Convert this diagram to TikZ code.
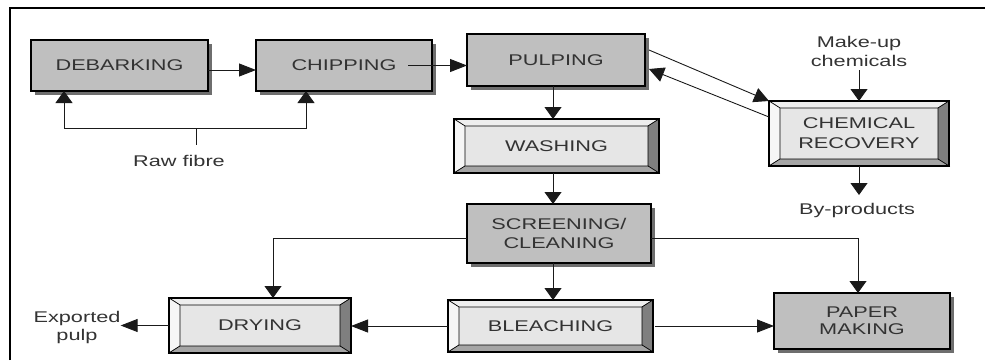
\documentclass[tikz,border=0pt]{standalone}
\usepackage{fontspec}
\setmainfont{Liberation Sans}[FakeStretch=1.4]
\usetikzlibrary{arrows.meta,calc,shadows}
\definecolor{ink}{HTML}{333333}
\definecolor{boxgray}{HTML}{BFBFBF}
\definecolor{shade}{HTML}{6E6E6E}
\definecolor{face}{HTML}{E6E6E6}
\definecolor{bevtop}{HTML}{EEEEEE}
\definecolor{bevleft}{HTML}{F6F6F6}
\definecolor{bevright}{HTML}{7F7F7F}
\definecolor{bevbottom}{HTML}{A5A5A5}
\definecolor{wirecol}{HTML}{1A1A1A}

\begin{document}
\begin{tikzpicture}[x=1pt,y=-1pt,
  lbl/.style={text=ink,font=\fontsize{15.5}{19}\selectfont,align=center,inner sep=0pt},
  flatbox/.style={lbl,draw=black,line width=1.2pt,fill=boxgray,outer sep=0pt,
     drop shadow={shadow xshift=4pt,shadow yshift=-4pt,fill=shade,opacity=1}},
  bevelbox/.style={lbl,draw=black,line width=1.2pt,fill=face,outer sep=0pt},
  bevel/.style={draw=black,line width=0.6pt},
  wire/.style={draw=wirecol,line width=0.9pt},
  harrow/.style={wire,-{Triangle[length=17pt,width=13pt]}},
  varrow/.style={wire,-{Triangle[length=12pt,width=17pt]}},
  darrow/.style={wire,-{Triangle[length=15pt,width=15pt]}},
]
\useasboundingbox (0,0) rectangle (985,360);

% open frame: top and left rules
\draw[line width=2.5pt] (10,360) -- (10,8) -- (985,8);

% plain process boxes
\node[flatbox,minimum width=177pt,minimum height=51pt] (deb)    at (119.5,65.5) {DEBARKING};
\node[flatbox,minimum width=176pt,minimum height=51pt] (chip)   at (344,65.5)   {CHIPPING};
\node[flatbox,minimum width=178pt,minimum height=52pt] (pulp)   at (556,60)     {PULPING};
\node[flatbox,minimum width=184pt,minimum height=59pt] (screen) at (559,233.5)  {SCREENING/\\CLEANING};
\node[flatbox,minimum width=176pt,minimum height=56pt,font=\fontsize{15.5}{17}\selectfont] (paper) at (862,321) {PAPER\\MAKING};

% bevelled process boxes
\node[bevelbox,minimum width=205pt,minimum height=54pt] (wash)   at (556.5,146)  {WASHING};
\node[bevelbox,minimum width=180pt,minimum height=65pt,font=\fontsize{15.5}{20}\selectfont] (chem) at (859,133.5) {CHEMICAL\\RECOVERY};
\node[bevelbox,minimum width=205pt,minimum height=52pt] (bleach) at (550.5,326)  {BLEACHING};
\node[bevelbox,minimum width=182pt,minimum height=55pt] (dry)    at (260,325.5)  {DRYING};

\foreach \n in {wash,chem,bleach,dry}{
  \filldraw[bevel,fill=bevtop] (\n.north west) -- (\n.north east)
     -- ($(\n.north east)+(-11,7)$) -- ($(\n.north west)+(11,7)$) -- cycle;
  \filldraw[bevel,fill=bevleft] (\n.north west) -- ($(\n.north west)+(11,7)$)
     -- ($(\n.south west)+(11,-7)$) -- (\n.south west) -- cycle;
  \filldraw[bevel,fill=bevright] (\n.north east) -- (\n.south east)
     -- ($(\n.south east)+(-11,-7)$) -- ($(\n.north east)+(-11,7)$) -- cycle;
  \filldraw[bevel,fill=bevbottom] (\n.south west) -- (\n.south east)
     -- ($(\n.south east)+(-11,-7)$) -- ($(\n.south west)+(11,-7)$) -- cycle;
  \draw[line width=1.2pt] (\n.north west) rectangle (\n.south east);
}

% free labels
\node[lbl,anchor=base]  (raw)    at (179,166)   {Raw fibre};
\node[lbl,anchor=north] (makeup) at (859,35.7)  {Make-up\\chemicals};
\node[lbl,anchor=base]  (byprod) at (857,214)   {By-products};
\node[lbl,anchor=north,font=\fontsize{15.5}{18}\selectfont] (expo) at (77,310.7) {Exported\\pulp};

% raw fibre feed
\coordinate (rawjoin) at (196,128);
\coordinate (rawstub) at (196,145);
\draw[wire] (rawjoin) -- (rawstub);
\draw[varrow] (rawjoin) -| ([xshift=33pt]deb.south west);
\draw[varrow] (rawjoin) -| ([xshift=50pt]chip.south west);

% top row
\draw[harrow] ([yshift=-4.5pt]deb.east) -- ([yshift=-4.5pt]chip.west);
\draw[harrow] ([xshift=-24pt]chip.east) -- (pulp.west |- chip.east);

% main spine
\coordinate (spine) at (553,0);
\draw[varrow] (pulp.south -| spine) -- (wash.north -| spine);
\draw[varrow] (wash.south -| spine) -- (screen.north -| spine);
\draw[varrow] (screen.south -| spine) -- (bleach.north -| spine);

% liquor loop with chemical recovery
\draw[darrow] ([shift={(4,-10)}]pulp.east) -- (chem.north west);
\draw[darrow] ([shift={(0,16)}]chem.north west) -- ([shift={(4,9)}]pulp.east);
\draw[varrow] ([yshift=-4pt]makeup.south) -- (makeup.south |- chem.north);
\coordinate (bytop) at ([yshift=19pt]byprod.base);
\draw[varrow] (chem.south) -- (chem.south |- bytop);

% screening branches
\draw[varrow] ([yshift=-4.5pt]screen.west) -| ([xshift=13pt]dry.north);
\draw[varrow] ([yshift=-4.5pt]screen.east) -| ([xshift=-4pt]paper.north);

% bottom row
\draw[harrow] (bleach.west) -- (dry.east |- bleach.west);
\draw[harrow] ([xshift=2pt]bleach.east) -- (paper.west |- bleach.east);
\draw[harrow] (dry.west) -- (dry.west -| expo.east);
\end{tikzpicture}
\end{document}
